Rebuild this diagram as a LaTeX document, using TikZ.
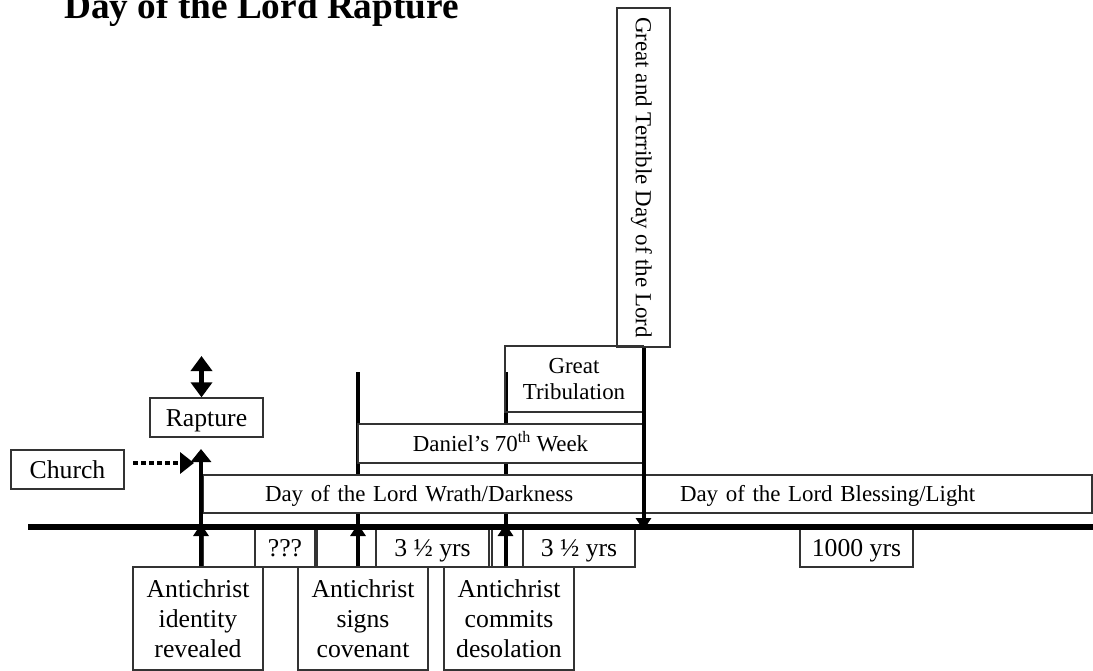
\documentclass[tikz,border=0pt]{standalone}
\usepackage{fontspec}
\setmainfont{Liberation Serif}
\usetikzlibrary{arrows.meta}
\begin{document}
\begin{tikzpicture}[x=1bp,y=-1bp,
  box/.style={draw=black!80, line width=1.3bp, inner sep=0pt},
  opaque/.style={box, fill=white},
  big/.style={font=\fontsize{25.8}{30}\selectfont},
  small/.style={font=\fontsize{23}{26.6}\selectfont},
  capbig/.style={text height=17bp, text depth=0pt},
  capsmall/.style={text height=15.2bp, text depth=0pt},
  vline/.style={line width=4bp},
  tiptl/.style={-{Triangle[width=15bp,length=12bp]}},
  tipbig/.style={-{Triangle[width=20bp,length=13bp]}},
]
\useasboundingbox (0,0) rectangle (1093,671);

% title
\node[anchor=base west, inner sep=0pt, font=\fontsize{37.4}{40}\selectfont\bfseries] (title) at (64,18.5) {Day of the Lord Rapture};

% coordinates
\coordinate (tlL) at (28,527);
\coordinate (tlR) at (1093,527);
\coordinate (m1) at (201,527);
\coordinate (m2) at (358,527);
\coordinate (m3) at (505.5,527);
\coordinate (m1u) at (201,524);
\coordinate (m2u) at (358,524);
\coordinate (m3u) at (505.5,524);
\coordinate (m4d) at (643.5,530);
\coordinate (rup) at (201,449);
\coordinate (m2top) at (358,372);
\coordinate (m3top) at (505.5,372);
\coordinate (dtop) at (201.5,356);
\coordinate (dstart) at (133,463);
\coordinate (dend) at (194,463);

% upper lines (behind the boxes)
\draw[vline] (m2) -- (m2top);
\draw[vline] (m3) -- (m3top);

% upper boxes
\node[box, big, capbig, minimum width=113bp, minimum height=39bp] (church) at (67.5,469.5) {Church};
\node[box, big, capbig, minimum width=113bp, minimum height=39bp] (rapture) at (206.5,417.5) {Rapture};
\node[opaque, small, capsmall, minimum width=440bp, minimum height=38bp, text width=440bp, align=left] (wrath) at (423,494) {\hspace*{62bp}Day of the Lord Wrath/Darkness};
\node[opaque, small, capsmall, minimum width=449bp, minimum height=38bp, text width=449bp, align=left] (bless) at (867.5,494) {\hspace*{37bp}Day of the Lord Blessing/Light};
\node[opaque, small, capsmall, minimum width=285bp, minimum height=39bp] (daniel) at (500.5,443.5) {Daniel’s 70\textsuperscript{th} Week};
\node[box, small, align=center, minimum width=138bp, minimum height=66bp] (gtrib) at (574,379) {Great\\Tribulation};
\node[box, small, capsmall, rotate=-90, minimum width=339bp, minimum height=53bp] (gtd) at (643.5,177.5) {Great and Terrible Day of the Lord};

% row under the timeline
\node[box, minimum width=52bp, minimum height=38bp] (seg1) at (229,548) {};
\node[box, big, capbig, minimum width=60bp, minimum height=38bp] (q) at (285,548) {???};
\node[box, minimum width=59bp, minimum height=38bp] (seg2) at (346.5,548) {};
\node[box, big, capbig, minimum width=113bp, minimum height=38bp] (y1) at (432.5,548) {3 ½ yrs};
\node[box, minimum width=31bp, minimum height=38bp] (seg3) at (507.5,548) {};
\node[box, big, capbig, minimum width=112bp, minimum height=38bp] (y2) at (579,548) {3 ½ yrs};
\node[box, big, capbig, minimum width=113bp, minimum height=38bp] (k) at (856.5,548) {1000 yrs};

% bottom boxes
\node[box, big, align=center, minimum width=130bp, minimum height=103bp] (ident) at (198,618.5) {Antichrist\\identity\\revealed};
\node[box, big, align=center, minimum width=130bp, minimum height=103bp] (signs) at (363,618.5) {Antichrist\\signs\\covenant};
\node[box, big, align=center, minimum width=130bp, minimum height=103bp] (commits) at (509,618.5) {Antichrist\\commits\\desolation};

% arrows from the bottom boxes to the timeline
\draw[vline, tiptl] (ident.north -| m1) -- (m1u);
\draw[vline, tiptl] (signs.north -| m2) -- (m2u);
\draw[vline, tiptl] (commits.north -| m3) -- (m3u);
% down arrow from Great and Terrible Day
\draw[vline, tiptl] (gtd.east) -- (m4d);
% rapture arrow
\draw[vline, tipbig] (m1) -- (rup);
% double arrow above Rapture
\draw[line width=4.5bp, {Triangle[width=21bp,length=15bp]}-{Triangle[width=21bp,length=15bp]}] (dtop) -- (rapture.north -| dtop);
% dotted arrow from Church
\draw[line width=4bp, dash pattern=on 5bp off 3bp, -{Triangle[width=21bp,length=14bp]}] (dstart) -- (dend);
% timeline
\draw[line width=6bp] (tlL) -- (tlR);
\end{tikzpicture}
\end{document}
